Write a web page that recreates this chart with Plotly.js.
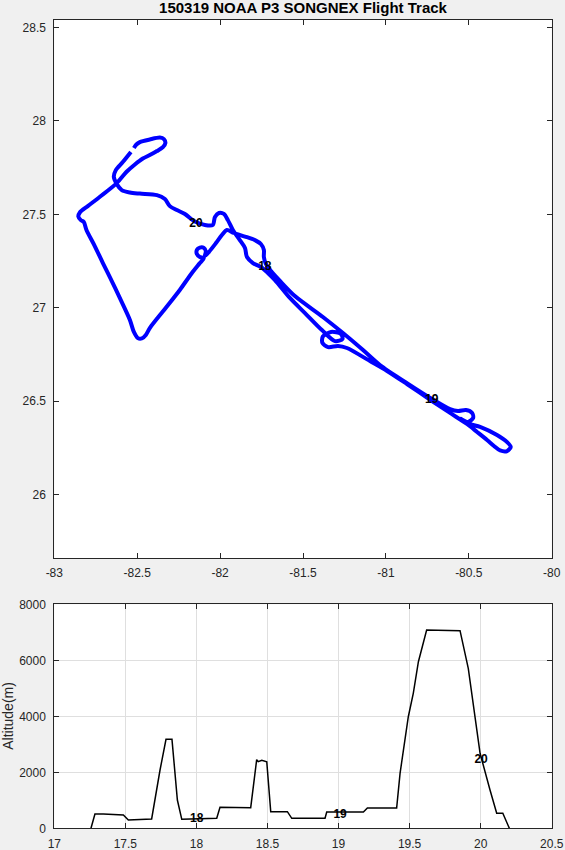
<!DOCTYPE html>
<html>
<head>
<meta charset="utf-8">
<script src="https://cdn.plot.ly/plotly-3.0.1.min.js"></script>
<style>
html,body{margin:0;padding:0;background:#f0f0f0;}
#chart{width:565px;height:850px;}
</style>
</head>
<body>
<div id="chart"></div>
<script>
// Flight track (longitude / latitude)
const trackLon = [
-82.520,-82.505,-82.484,-82.424,-82.363,-82.339,-82.330,-82.345,-82.381,-82.424,
-82.466,-82.514,-82.564,-82.625,-82.725,-82.798,-82.846,-82.855,-82.840,-82.822,
-82.806,-82.756,-82.707,-82.665,-82.605,-82.544,-82.520,-82.496,-82.472,-82.448,
-82.424,-82.333,-82.243,-82.170,-82.122,-82.098,-82.122,-82.140,-82.140,-82.122,
-82.098,-82.086,-82.092,-82.068,-82.025,-81.989,-81.959,-81.917,-81.850,-81.790,
-81.754,-81.736,-81.736,-81.724,-81.693,-81.639,-81.549,-81.380,-81.259,-81.138,
-81.036,-80.873,-80.722,-80.613,-80.565,-80.517,-80.480,-80.474,-80.505,-80.547,
-80.492,-80.432,-80.330,-80.269,-80.247,-80.269,-80.311,-80.348,-80.390,-80.450,
-80.511,-80.613,-80.722,-80.873,-80.993,-81.096,-81.235,-81.289,-81.349,-81.383,
-81.380,-81.331,-81.271,-81.262,-81.307,-81.386,-81.488,-81.579,-81.669,-81.712,
-81.754,-81.802,-81.838,-81.850,-81.881,-81.923,-81.953,-81.977,-82.007,-82.031,
-82.044,-82.092,-82.152,-82.212,-82.261,-82.303,-82.333,-82.381,-82.484,-82.544,
-82.593,-82.623,-82.641,-82.629,-82.587,-82.538];
const trackLat = [
27.855,27.874,27.887,27.901,27.911,27.903,27.882,27.860,27.839,27.818,
27.799,27.767,27.728,27.666,27.594,27.544,27.510,27.488,27.469,27.459,
27.416,27.330,27.239,27.164,27.052,26.934,26.870,26.837,26.835,26.854,
26.891,26.993,27.095,27.186,27.239,27.266,27.271,27.287,27.309,27.322,
27.320,27.301,27.277,27.298,27.346,27.389,27.416,27.400,27.381,27.362,
27.341,27.309,27.271,27.234,27.196,27.143,27.062,26.950,26.864,26.773,
26.693,26.596,26.511,26.457,26.447,26.452,26.436,26.409,26.388,26.404,
26.377,26.361,26.318,26.280,26.254,26.232,26.235,26.259,26.291,26.334,
26.377,26.436,26.500,26.591,26.661,26.714,26.784,26.795,26.789,26.811,
26.846,26.870,26.859,26.832,26.821,26.880,26.971,27.052,27.148,27.186,
27.218,27.239,27.271,27.320,27.362,27.416,27.469,27.502,27.507,27.486,
27.443,27.443,27.461,27.502,27.523,27.544,27.582,27.603,27.611,27.617,
27.630,27.662,27.700,27.737,27.780,27.834];

// Hour markers on the track
const hourLabels = ['18','19','20'];
const hourLon = [-81.730,-80.724,-82.146];
const hourLat = [27.219,26.505,27.448];

// Altitude time series (UTC hour, metres)
const altTime = [17.258,17.286,17.345,17.486,17.521,17.685,17.744,17.786,17.828,17.866,
17.897,18.143,18.166,18.382,18.424,18.435,18.460,18.495,18.523,18.640,
18.671,18.905,18.917,19.175,19.203,19.409,19.433,19.491,19.526,19.562,
19.620,19.737,19.855,19.913,19.996,20.066,20.113,20.156,20.202];
const altM = [0,511,511,475,296,332,2082,3178,3178,1010,
321,357,750,736,2450,2380,2430,2378,593,593,
357,357,582,582,725,725,1964,3985,4821,5950,
7081,7081,7057,5714,2678,1368,536,536,0];

const altLabelTime = [18.002,19.011,20.003];
const altLabelAlt = [321,475,2439];

// Tick labels
const lonTicks = [-83,-82.5,-82,-81.5,-81,-80.5,-80];
const lonTickText = ['-83','-82.5','-82','-81.5','-81','-80.5','-80'];
const latTicks = [26,26.5,27,27.5,28,28.5];
const latTickText = ['26','26.5','27','27.5','28','28.5'];
const timeTicks = [17,17.5,18,18.5,19,19.5,20,20.5];
const timeTickText = ['17','17.5','18','18.5','19','19.5','20','20.5'];
const altTicks = [0,2000,4000,6000,8000];
const altTickText = ['0','2000','4000','6000','8000'];

const FONT = 'Liberation Sans, Arial, sans-serif';
const AX = '#262626';

const traces = [
  {x: trackLon, y: trackLat, type:'scatter', mode:'lines', xaxis:'x', yaxis:'y',
   line:{color:'#0000ff', width:4, shape:'spline', smoothing:0.8}, hoverinfo:'skip'},
  {x: hourLon, y: hourLat, text: hourLabels, type:'scatter', mode:'text', xaxis:'x', yaxis:'y',
   textposition:'middle center', textfont:{family:FONT, size:12, color:'#000000', weight:'bold'}},
  {x: altTime, y: altM, type:'scatter', mode:'lines', xaxis:'x2', yaxis:'y2',
   line:{color:'#000000', width:1.5}, hoverinfo:'skip'},
  {x: altLabelTime, y: altLabelAlt, text: hourLabels, type:'scatter', mode:'text', xaxis:'x2', yaxis:'y2',
   textposition:'middle center', textfont:{family:FONT, size:12, color:'#000000', weight:'bold'}}
];

const common = {
  ticks:'inside', ticklen:5, tickcolor:AX, tickwidth:1,
  showline:true, linecolor:AX, linewidth:1, mirror:'ticks',
  zeroline:false, tickfont:{family:FONT, size:12, color:AX}
};

const W = 565, H = 850;
const layout = {
  width:W, height:H,
  paper_bgcolor:'#f0f0f0', plot_bgcolor:'#ffffff',
  margin:{l:0, r:0, t:0, b:0},
  showlegend:false,
  title:{text:'150319 NOAA P3 SONGNEX Flight Track',
    font:{family:FONT, size:15, color:'#000000', weight:'bold'},
    xref:'container', yref:'container', x:303/W, y:1-8/H, xanchor:'center', yanchor:'middle'},
  xaxis:Object.assign({}, common, {domain:[54.3/W, 551.7/W], range:[-83,-80], anchor:'y',
    tickvals:lonTicks, ticktext:lonTickText, showgrid:false, ticklabelstandoff:4}),
  yaxis:Object.assign({}, common, {domain:[1-558/H, 1-20/H], range:[25.659,28.541], anchor:'x',
    tickvals:latTicks, ticktext:latTickText, showgrid:false, ticklabelstandoff:5}),
  xaxis2:Object.assign({}, common, {domain:[54.3/W, 551.7/W], range:[17,20.5], anchor:'y2',
    tickvals:timeTicks, ticktext:timeTickText, showgrid:true, gridcolor:'#dfdfdf', ticklabelstandoff:4}),
  yaxis2:Object.assign({}, common, {domain:[1-828.3/H, 1-604.3/H], range:[0,8000], anchor:'x2',
    tickvals:altTicks, ticktext:altTickText, showgrid:true, gridcolor:'#dfdfdf', ticklabelstandoff:5}),
  annotations:[{text:'Altitude(m)', xref:'paper', yref:'paper', x:8.5/W, y:1-716.3/H,
    showarrow:false, textangle:-90, xanchor:'center', yanchor:'middle',
    font:{family:FONT, size:14, color:AX}}]
};

Plotly.newPlot('chart', traces, layout, {displayModeBar:false, staticPlot:true});
</script>
</body>
</html>
